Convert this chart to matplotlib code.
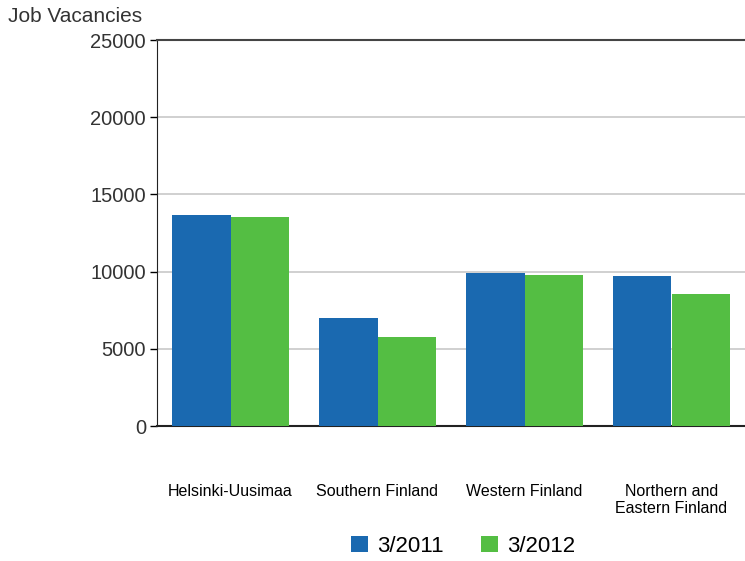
import numpy as np
import matplotlib.pyplot as plt

plt.rcParams['font.family'] = ['Liberation Sans', 'DejaVu Sans']

# Job vacancies by region
regions = ["Helsinki-Uusimaa", "Southern Finland", "Western Finland",
           "Northern and\nEastern Finland"]
vac_2011 = [13650, 7000, 9910, 9700]
vac_2012 = [13510, 5760, 9780, 8530]
series_labels = ["3/2011", "3/2012"]

blue = "#1a69b0"
green = "#54be43"

fig = plt.figure(figsize=(7.45, 5.61), dpi=100)
ax = fig.add_axes([157 / 745, 135 / 561, 588 / 745, 386 / 561])

x = np.arange(len(regions))
w = 0.4
ax.bar(x - w / 2, vac_2011, w, color=blue, label=series_labels[0], zorder=3)
ax.bar(x + w / 2, vac_2012, w, color=green, label=series_labels[1], zorder=3)

ax.set_xlim(-0.5, len(regions) - 0.5)
ax.set_ylim(0, 25000)
ax.set_yticks(np.arange(0, 25001, 5000))
ax.yaxis.grid(True, color="#c8c8c8", linewidth=1.2, zorder=0)
ax.tick_params(axis="y", labelsize=14.5, labelcolor="#333333", length=5,
               width=1, direction="out", pad=3)

ax.set_xticks(x)
ax.set_xticklabels(regions, fontsize=11.5, va="top", linespacing=1.1)
ax.tick_params(axis="x", length=0, pad=42)

ax.spines["right"].set_visible(False)
ax.spines["top"].set_color("#444444")
ax.spines["top"].set_linewidth(1.5)
ax.spines["left"].set_color("#222222")
ax.spines["bottom"].set_color("#222222")
ax.spines["bottom"].set_linewidth(1.5)

fig.text(8 / 745, 1 - 17 / 561, "Job Vacancies", fontsize=15,
         color="#333333", va="center", ha="left")

fig.legend(loc="center", bbox_to_anchor=(463 / 745, 1 - 546 / 561), ncol=2,
           frameon=False, fontsize=16, handlelength=0.75, handleheight=0.75,
           handletextpad=0.4, columnspacing=1.7)

fig.savefig("out.png", dpi=100)
